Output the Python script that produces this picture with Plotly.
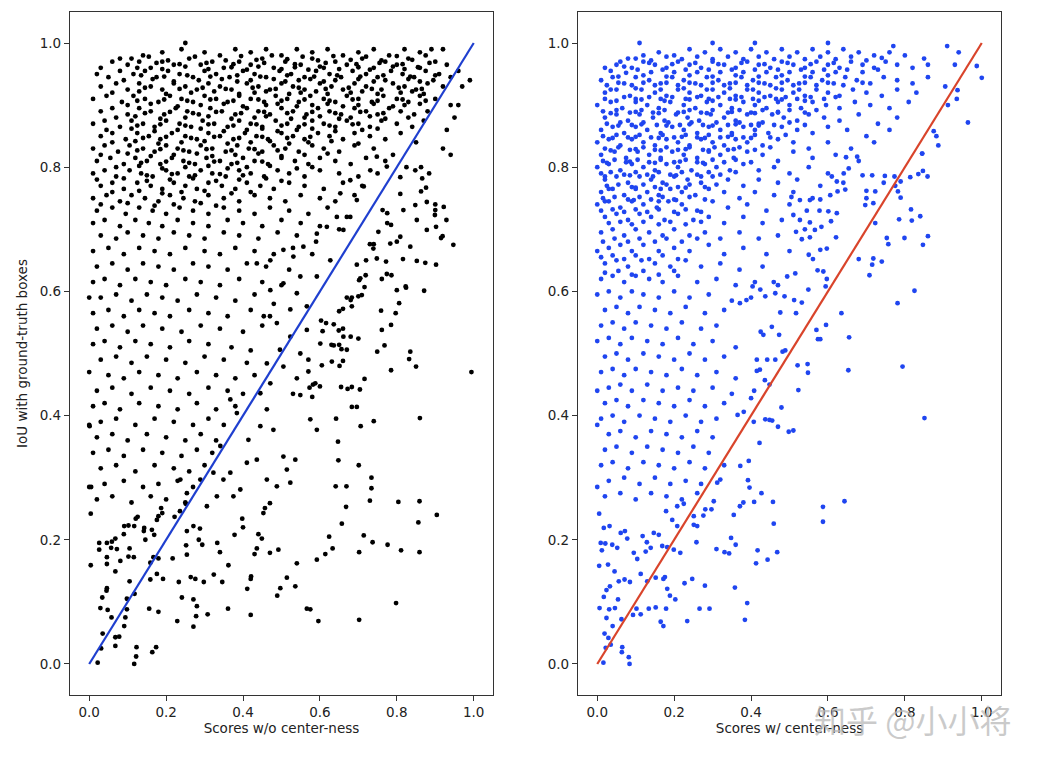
import plotly.graph_objects as go

# ---------------- data (score, IoU) ----------------
# left panel: scores without center-ness
wo_top = [
    (0.14,0.98),(0.19,0.985),(0.24,0.99),(0.25,1.0),(0.3,0.985),(0.34,0.98),(0.38,0.99),(0.42,0.985),(0.46,0.99),(0.5,0.98),
    (0.54,0.99),(0.58,0.985),(0.62,0.99),(0.66,0.98),(0.7,0.985),(0.74,0.99),(0.78,0.98),(0.82,0.99),(0.86,0.985),(0.89,0.99),
    (0.92,0.99),(0.08,0.975),(0.11,0.975),
    (0.03,0.96),(0.06,0.97),(0.1,0.965),(0.13,0.97),(0.16,0.96),(0.19,0.97),(0.22,0.965),(0.26,0.975),(0.29,0.965),(0.32,0.97),
    (0.35,0.96),(0.39,0.97),(0.42,0.965),(0.45,0.975),(0.48,0.96),(0.51,0.97),(0.55,0.965),(0.58,0.975),(0.61,0.96),(0.64,0.97),
    (0.67,0.965),(0.71,0.975),(0.74,0.96),(0.77,0.97),(0.8,0.965),(0.83,0.975),(0.86,0.96),(0.9,0.97),(0.93,0.965),(0.96,0.955),
    (0.02,0.95),(0.05,0.945),(0.08,0.955),(0.115,0.95),(0.145,0.955),(0.175,0.945),(0.205,0.955),(0.235,0.95),(0.27,0.945),
    (0.3,0.955),(0.33,0.95),(0.365,0.945),(0.4,0.955),(0.43,0.95),(0.46,0.945),(0.495,0.955),(0.525,0.95),(0.56,0.945),
    (0.59,0.955),(0.625,0.95),(0.655,0.945),(0.685,0.955),(0.72,0.95),(0.75,0.945),(0.785,0.955),(0.815,0.95),(0.845,0.945),
    (0.875,0.955),(0.91,0.95),(0.94,0.945),(0.99,0.94),
    (0.03,0.93),(0.07,0.935),(0.1,0.925),(0.13,0.935),(0.16,0.93),(0.19,0.925),(0.22,0.935),(0.25,0.93),(0.28,0.925),(0.31,0.935),
    (0.34,0.93),(0.37,0.925),(0.41,0.935),(0.44,0.93),(0.47,0.925),(0.5,0.935),(0.53,0.93),(0.56,0.925),(0.6,0.935),(0.63,0.93),
    (0.66,0.925),(0.69,0.935),(0.72,0.93),(0.76,0.925),(0.79,0.935),(0.82,0.93),(0.85,0.925),(0.88,0.935),(0.92,0.93),
    (0.01,0.91),(0.045,0.915),(0.085,0.905),(0.115,0.915),(0.145,0.91),(0.18,0.905),(0.21,0.915),(0.24,0.91),(0.27,0.905),
    (0.3,0.915),(0.33,0.91),(0.36,0.905),(0.39,0.915),(0.42,0.91),(0.455,0.905),(0.485,0.915),(0.515,0.91),(0.545,0.905),
    (0.575,0.915),(0.61,0.91),(0.64,0.905),(0.67,0.915),(0.7,0.91),(0.735,0.905),(0.765,0.915),(0.8,0.91),(0.83,0.905),
    (0.86,0.915),(0.9,0.91),(0.94,0.9),
    (0.03,0.89),(0.06,0.895),(0.1,0.885),(0.13,0.895),(0.16,0.89),(0.195,0.885),(0.225,0.895),(0.255,0.89),(0.285,0.885),
    (0.315,0.895),(0.345,0.89),(0.38,0.885),(0.41,0.895),(0.44,0.89),(0.47,0.885),(0.5,0.895),(0.53,0.89),(0.565,0.885),
    (0.595,0.895),(0.625,0.89),(0.655,0.885),(0.69,0.895),(0.72,0.89),(0.75,0.885),(0.78,0.895),(0.81,0.89),(0.845,0.885),(0.88,0.89),
    (0.01,0.87),(0.04,0.875),(0.08,0.865),(0.11,0.875),(0.14,0.87),(0.17,0.865),(0.2,0.875),(0.235,0.87),(0.265,0.865),(0.295,0.875),
    (0.325,0.87),(0.36,0.865),(0.39,0.875),(0.42,0.87),(0.45,0.865),(0.485,0.875),(0.515,0.87),(0.545,0.865),(0.58,0.875),
    (0.61,0.87),(0.64,0.865),(0.67,0.875),(0.7,0.87),(0.73,0.865),(0.76,0.875),(0.8,0.87),(0.84,0.865),(0.87,0.875),
    (0.03,0.85),(0.06,0.855),(0.095,0.845),(0.125,0.855),(0.155,0.85),(0.185,0.845),(0.215,0.855),(0.25,0.85),(0.28,0.845),
    (0.31,0.855),(0.34,0.85),(0.375,0.845),(0.405,0.855),(0.435,0.85),(0.465,0.845),(0.5,0.855),(0.53,0.85),(0.56,0.845),
    (0.595,0.855),(0.625,0.85),(0.66,0.845),(0.69,0.855),(0.73,0.85),(0.77,0.845),(0.81,0.855),(0.85,0.84),
]
wo_fill = [
    (0.155,0.978),(0.205,0.972),(0.275,0.978),(0.355,0.972),(0.395,0.979),(0.435,0.973),(0.475,0.98),(0.515,0.974),(0.555,0.978),
    (0.595,0.972),(0.635,0.979),(0.68,0.973),(0.72,0.978),(0.76,0.972),(0.8,0.979),(0.84,0.973),(0.875,0.98),
    (0.125,0.96),(0.19,0.958),(0.25,0.962),(0.31,0.958),(0.37,0.961),(0.41,0.957),(0.44,0.962),(0.5,0.958),(0.535,0.961),
    (0.57,0.957),(0.6,0.962),(0.65,0.958),(0.7,0.961),(0.73,0.957),(0.79,0.962),(0.82,0.958),(0.855,0.961),
    (0.09,0.94),(0.165,0.942),(0.22,0.938),(0.285,0.94),(0.345,0.942),(0.385,0.938),(0.42,0.94),(0.48,0.942),(0.51,0.938),
    (0.545,0.94),(0.575,0.942),(0.61,0.938),(0.64,0.94),(0.7,0.942),(0.74,0.938),(0.77,0.94),(0.83,0.942),(0.86,0.938),(0.895,0.94),
    (0.06,0.92),(0.13,0.922),(0.2,0.918),(0.265,0.92),(0.325,0.922),(0.39,0.918),(0.43,0.92),(0.46,0.922),(0.52,0.918),
    (0.55,0.92),(0.59,0.922),(0.62,0.918),(0.68,0.92),(0.71,0.922),(0.75,0.918),(0.81,0.92),(0.84,0.922),(0.87,0.918),
    (0.1,0.9),(0.16,0.902),(0.23,0.898),(0.29,0.9),(0.35,0.902),(0.4,0.898),(0.46,0.9),(0.49,0.902),(0.54,0.898),(0.58,0.9),
    (0.62,0.902),(0.66,0.898),(0.7,0.9),(0.74,0.902),(0.79,0.898),(0.82,0.9),(0.86,0.902),
    (0.07,0.88),(0.12,0.882),(0.185,0.878),(0.25,0.88),(0.31,0.882),(0.37,0.878),(0.43,0.88),(0.46,0.882),(0.525,0.878),
    (0.56,0.88),(0.6,0.882),(0.65,0.878),(0.68,0.88),(0.73,0.882),(0.77,0.878),(0.83,0.88),
    (0.045,0.86),(0.11,0.862),(0.17,0.858),(0.23,0.86),(0.29,0.862),(0.35,0.858),(0.41,0.86),(0.45,0.862),(0.49,0.858),
    (0.54,0.86),(0.58,0.862),(0.64,0.858),(0.71,0.86),(0.75,0.862),
    (0.06,0.84),(0.12,0.842),(0.18,0.838),(0.24,0.84),(0.3,0.842),(0.36,0.838),(0.42,0.84),(0.47,0.842),(0.52,0.838),
    (0.57,0.84),(0.63,0.842),(0.7,0.838),
    (0.03,0.82),(0.1,0.822),(0.16,0.818),(0.22,0.82),(0.28,0.822),(0.32,0.818),(0.38,0.82),(0.44,0.822),(0.5,0.818),(0.56,0.82),(0.62,0.822),
    (0.07,0.8),(0.13,0.802),(0.19,0.798),(0.25,0.8),(0.31,0.802),(0.36,0.798),(0.41,0.8),(0.47,0.802),(0.54,0.798),(0.58,0.8),
    (0.02,0.78),(0.09,0.782),(0.15,0.778),(0.21,0.78),(0.27,0.782),(0.33,0.778),(0.39,0.78),(0.46,0.782),(0.5,0.778),
    (0.06,0.76),(0.13,0.762),(0.19,0.758),(0.24,0.76),(0.3,0.762),(0.37,0.758),(0.42,0.76),
    (0.03,0.74),(0.1,0.742),(0.17,0.738),(0.22,0.74),(0.29,0.742),(0.33,0.738),
]
wo_core = [
    (0.175,0.968),(0.235,0.966),(0.305,0.968),(0.375,0.966),(0.455,0.968),(0.535,0.966),(0.615,0.968),(0.695,0.966),(0.755,0.968),
    (0.815,0.966),(0.885,0.968),
    (0.135,0.948),(0.195,0.946),(0.255,0.948),(0.315,0.946),(0.385,0.948),(0.445,0.946),(0.515,0.948),(0.585,0.946),(0.645,0.948),
    (0.705,0.946),(0.765,0.948),(0.835,0.946),(0.9,0.948),
    (0.145,0.928),(0.235,0.926),(0.295,0.928),(0.355,0.926),(0.425,0.928),(0.485,0.926),(0.545,0.928),(0.615,0.926),(0.675,0.928),
    (0.735,0.926),(0.805,0.928),(0.865,0.926),
    (0.125,0.907),(0.195,0.909),(0.255,0.907),(0.315,0.909),(0.375,0.907),(0.44,0.909),(0.5,0.907),(0.56,0.909),(0.625,0.907),
    (0.685,0.909),(0.75,0.907),(0.815,0.909),(0.875,0.907),
    (0.145,0.887),(0.21,0.889),(0.27,0.887),(0.33,0.889),(0.395,0.887),(0.455,0.889),(0.515,0.887),(0.58,0.889),(0.64,0.887),
    (0.705,0.889),(0.765,0.887),
    (0.125,0.867),(0.185,0.869),(0.25,0.867),(0.31,0.869),(0.375,0.867),(0.435,0.869),(0.5,0.867),(0.56,0.869),(0.625,0.867),(0.685,0.869),
    (0.14,0.847),(0.2,0.849),(0.265,0.847),(0.325,0.849),(0.39,0.847),(0.45,0.849),(0.515,0.847),(0.575,0.849),
    (0.125,0.827),(0.185,0.829),(0.245,0.827),(0.305,0.829),(0.37,0.827),(0.43,0.829),(0.49,0.827),
    (0.135,0.807),(0.2,0.809),(0.26,0.807),(0.325,0.809),(0.385,0.807),(0.45,0.809),
    (0.15,0.787),(0.215,0.789),(0.275,0.787),(0.34,0.789),(0.4,0.787),
]
wo_mid = [
    (0.01,0.83),(0.04,0.835),(0.075,0.825),(0.105,0.835),(0.14,0.83),(0.17,0.825),(0.2,0.835),(0.23,0.83),(0.26,0.825),(0.29,0.835),
    (0.32,0.83),(0.355,0.825),(0.385,0.835),(0.415,0.83),(0.45,0.825),(0.48,0.835),(0.51,0.83),(0.545,0.825),(0.58,0.835),
    (0.61,0.83),(0.65,0.825),(0.69,0.835),(0.74,0.83),(0.79,0.82),
    (0.02,0.81),(0.055,0.815),(0.09,0.805),(0.12,0.815),(0.15,0.81),(0.185,0.805),(0.215,0.815),(0.245,0.81),(0.275,0.805),
    (0.305,0.815),(0.34,0.81),(0.37,0.805),(0.4,0.815),(0.43,0.81),(0.465,0.805),(0.5,0.815),(0.535,0.81),(0.57,0.805),
    (0.6,0.815),(0.64,0.81),(0.68,0.805),(0.72,0.815),(0.77,0.81),
    (0.01,0.79),(0.04,0.795),(0.07,0.785),(0.105,0.795),(0.135,0.79),(0.165,0.785),(0.2,0.795),(0.23,0.79),(0.26,0.785),(0.29,0.795),
    (0.32,0.79),(0.355,0.785),(0.39,0.795),(0.42,0.79),(0.455,0.785),(0.49,0.795),(0.52,0.79),(0.56,0.785),(0.6,0.795),
    (0.65,0.79),(0.7,0.785),(0.75,0.79),
    (0.03,0.77),(0.06,0.775),(0.09,0.765),(0.125,0.775),(0.16,0.77),(0.19,0.765),(0.22,0.775),(0.25,0.77),(0.28,0.765),(0.31,0.775),
    (0.345,0.77),(0.38,0.765),(0.41,0.775),(0.445,0.77),(0.48,0.765),(0.52,0.775),(0.56,0.77),(0.61,0.765),(0.66,0.775),(0.71,0.77),
    (0.01,0.75),(0.045,0.755),(0.08,0.745),(0.11,0.755),(0.145,0.75),(0.18,0.745),(0.21,0.755),(0.245,0.75),(0.275,0.745),
    (0.31,0.755),(0.35,0.75),(0.39,0.745),(0.43,0.755),(0.47,0.75),(0.51,0.745),(0.55,0.755),(0.6,0.75),(0.64,0.745),(0.69,0.755),
    (0.02,0.73),(0.06,0.735),(0.095,0.725),(0.13,0.735),(0.165,0.73),(0.2,0.725),(0.235,0.735),(0.27,0.73),(0.31,0.725),
    (0.35,0.735),(0.39,0.73),(0.43,0.725),(0.47,0.735),(0.52,0.73),(0.57,0.725),(0.62,0.735),(0.67,0.72),
    (0.01,0.71),(0.04,0.715),(0.08,0.705),(0.12,0.715),(0.155,0.71),(0.19,0.705),(0.23,0.715),(0.27,0.71),(0.31,0.705),
    (0.36,0.715),(0.4,0.71),(0.45,0.705),(0.5,0.715),(0.55,0.71),(0.6,0.705),(0.65,0.7),
    (0.03,0.69),(0.07,0.685),(0.1,0.695),(0.14,0.69),(0.18,0.685),(0.22,0.695),(0.26,0.69),(0.3,0.685),(0.35,0.695),(0.39,0.69),
    (0.44,0.685),(0.49,0.695),(0.54,0.69),(0.59,0.68),
    (0.01,0.665),(0.05,0.67),(0.09,0.66),(0.13,0.67),(0.17,0.665),(0.21,0.66),(0.25,0.67),(0.3,0.665),(0.34,0.66),(0.38,0.67),
    (0.43,0.665),(0.48,0.66),(0.53,0.67),(0.58,0.66),
    (0.02,0.64),(0.06,0.645),(0.1,0.635),(0.14,0.645),(0.18,0.64),(0.22,0.635),(0.27,0.645),(0.31,0.64),(0.36,0.635),(0.41,0.645),
    (0.46,0.64),(0.52,0.635),
    (0.01,0.615),(0.04,0.62),(0.08,0.61),(0.12,0.62),(0.16,0.615),(0.2,0.61),(0.25,0.62),(0.29,0.615),(0.34,0.61),(0.39,0.62),
    (0.45,0.615),(0.5,0.61),
    (0.436,0.645),(0.471,0.65),(0.505,0.667),(0.531,0.656),(0.557,0.672),(0.592,0.693),(0.618,0.704),(0.644,0.72),(0.661,0.699),
    (0.679,0.72),(0.696,0.747),(0.714,0.769),(0.653,0.758),(0.679,0.779),(0.731,0.795),(0.748,0.817),(0.774,0.801),
    (0.592,0.624),(0.627,0.65),(0.549,0.624),(0.505,0.613),(0.471,0.602),
]
wo_low = [
    (0.03,0.59),(0.07,0.595),(0.11,0.585),(0.15,0.595),(0.19,0.59),(0.23,0.585),(0.28,0.595),(0.33,0.59),(0.38,0.585),(0.43,0.595),(0.48,0.58),
    (0.0,0.59),(0.01,0.565),(0.05,0.57),(0.09,0.56),(0.13,0.57),(0.17,0.565),(0.21,0.56),(0.26,0.57),(0.31,0.565),(0.36,0.56),
    (0.42,0.57),(0.47,0.56),
    (0.02,0.54),(0.06,0.545),(0.1,0.535),(0.14,0.545),(0.19,0.54),(0.24,0.535),(0.29,0.545),(0.34,0.54),(0.4,0.535),(0.45,0.545),
    (0.01,0.515),(0.04,0.52),(0.08,0.51),(0.12,0.52),(0.16,0.515),(0.21,0.51),(0.26,0.52),(0.31,0.515),(0.37,0.51),(0.42,0.505),
    (0.03,0.49),(0.07,0.495),(0.11,0.485),(0.15,0.495),(0.2,0.49),(0.25,0.485),(0.3,0.495),(0.35,0.49),(0.41,0.485),
    (0.0,0.47),(0.05,0.465),(0.09,0.46),(0.13,0.47),(0.18,0.465),(0.23,0.46),(0.28,0.47),(0.33,0.465),(0.38,0.46),(0.43,0.465),
    (0.02,0.44),(0.06,0.445),(0.11,0.435),(0.16,0.445),(0.21,0.44),(0.26,0.435),(0.31,0.445),(0.36,0.44),(0.4,0.435),
    (0.01,0.415),(0.04,0.42),(0.08,0.41),(0.13,0.42),(0.18,0.415),(0.23,0.41),(0.28,0.42),(0.33,0.41),(0.38,0.415),
    (0.0,0.385),(0.03,0.39),(0.07,0.395),(0.12,0.385),(0.17,0.395),(0.22,0.39),(0.27,0.385),(0.31,0.395),(0.35,0.385),
    (0.02,0.365),(0.06,0.37),(0.1,0.36),(0.15,0.37),(0.2,0.365),(0.25,0.36),(0.29,0.37),(0.33,0.36),
    (0.01,0.34),(0.05,0.345),(0.09,0.335),(0.14,0.345),(0.19,0.34),(0.24,0.335),(0.28,0.345),(0.32,0.34),
    (0.03,0.315),(0.07,0.32),(0.12,0.31),(0.17,0.32),(0.22,0.315),(0.26,0.31),(0.3,0.32),
    (0.0,0.285),(0.04,0.29),(0.09,0.295),(0.14,0.285),(0.18,0.29),(0.23,0.295),(0.27,0.285),
    (0.02,0.265),(0.06,0.27),(0.11,0.26),(0.16,0.27),(0.2,0.265),(0.25,0.26),
    (0.54,0.597),(0.566,0.576),(0.523,0.571),(0.488,0.549),(0.454,0.56),(0.566,0.538),(0.523,0.527),(0.601,0.516),
    (0.496,0.506),(0.549,0.5),(0.462,0.484),(0.505,0.479),(0.471,0.452),(0.445,0.436),
    (0.6,0.447),(0.575,0.394),(0.592,0.377),(0.536,0.329),(0.505,0.334),(0.479,0.377),(0.462,0.41),(0.445,0.383),(0.414,0.361),
    (0.436,0.329),(0.41,0.324),(0.462,0.297),(0.488,0.286),(0.514,0.313),(0.523,0.292),(0.457,0.251),(0.453,0.243),(0.47,0.259),
    (0.384,0.404),(0.367,0.426),(0.341,0.351),(0.323,0.308),(0.367,0.308),(0.393,0.281),(0.375,0.27),(0.349,0.297),(0.332,0.27),
    (0.306,0.254),(0.289,0.297),(0.254,0.275),(0.237,0.297),
]
wo_bottom = [
    (0.004,0.242),(0.005,0.285),(0.001,0.383),(0.004,0.159),(0.026,0.184),(0.026,0.195),(0.046,0.195),(0.059,0.197),(0.057,0.187),
    (0.072,0.185),(0.068,0.202),(0.091,0.222),(0.09,0.209),(0.102,0.223),(0.117,0.222),(0.121,0.234),(0.126,0.237),(0.143,0.219),
    (0.146,0.2),(0.142,0.214),(0.163,0.216),(0.169,0.208),(0.176,0.232),(0.18,0.238),(0.19,0.243),(0.187,0.251),(0.167,0.172),
    (0.18,0.17),(0.159,0.163),(0.192,0.137),(0.159,0.136),(0.176,0.145),(0.222,0.237),(0.236,0.246),(0.251,0.258),(0.271,0.222),
    (0.285,0.2),(0.288,0.218),(0.294,0.192),(0.254,0.214),(0.116,0.172),(0.105,0.186),(0.102,0.173),(0.081,0.166),(0.068,0.149),
    (0.046,0.161),(0.046,0.172),(0.022,0.002),(0.031,0.025),(0.035,0.049),(0.048,0.087),(0.029,0.09),(0.034,0.107),(0.046,0.122),
    (0.045,0.118),(0.058,0.075),(0.091,0.061),(0.094,0.075),(0.098,0.088),(0.098,0.105),(0.105,0.133),(0.118,0.113),(0.068,0.029),
    (0.078,0.044),(0.068,0.043),(0.123,0.027),(0.122,0.012),(0.117,0.0),(0.174,0.027),(0.164,0.019),(0.156,0.089),(0.18,0.084),
    (0.217,0.17),(0.252,0.191),(0.254,0.176),(0.233,0.132),(0.229,0.069),(0.241,0.107),(0.264,0.14),(0.271,0.104),(0.28,0.093),
    (0.271,0.06),(0.278,0.077),(0.276,0.137),(0.298,0.132),(0.308,0.08),(0.324,0.144),(0.333,0.195),(0.34,0.18),(0.346,0.132),
    (0.362,0.159),(0.361,0.089),(0.378,0.208),(0.398,0.234),(0.4,0.22),(0.42,0.137),(0.421,0.141),(0.411,0.121),(0.42,0.079),
    (0.44,0.209),(0.449,0.202),(0.436,0.186),(0.43,0.177),(0.47,0.179),(0.492,0.184),(0.489,0.11),(0.497,0.122),(0.514,0.139),
    (0.536,0.125),(0.54,0.162),(0.566,0.089),(0.575,0.088),(0.592,0.168),(0.614,0.177),(0.633,0.186),(0.624,0.205),(0.657,0.226),
    (0.668,0.253),(0.641,0.286),(0.669,0.286),(0.596,0.069),(0.702,0.071),(0.702,0.18),(0.714,0.207),(0.737,0.196),(0.776,0.192),
    (0.798,0.098),(0.811,0.183),(0.804,0.261),(0.859,0.18),(0.856,0.228),(0.859,0.262),(0.904,0.24),(0.73,0.263),(0.734,0.283),
    (0.734,0.3),(0.701,0.32),(0.647,0.358),(0.648,0.328),
]
wo_right = [
    (0.86,0.396),(0.706,0.383),(0.74,0.391),(0.642,0.395),(0.994,0.47),(0.947,0.675),(0.929,0.715),(0.922,0.736),(0.919,0.689),
    (0.915,0.686),(0.902,0.704),(0.902,0.643),(0.9,0.731),(0.899,0.723),(0.878,0.699),(0.874,0.646),(0.852,0.649),(0.871,0.601),
    (0.878,0.744),(0.863,0.761),(0.848,0.739),(0.852,0.715),(0.835,0.672),(0.817,0.731),(0.816,0.652),(0.824,0.606),(0.809,0.688),
    (0.806,0.581),(0.797,0.565),(0.785,0.546),(0.785,0.473),(0.835,0.503),(0.832,0.491),(0.85,0.479),(0.768,0.513),(0.749,0.503),
    (0.761,0.538),(0.759,0.569),(0.786,0.626),(0.774,0.628),(0.761,0.62),(0.772,0.648),(0.748,0.653),(0.785,0.707),(0.783,0.677),
    (0.8,0.68),(0.8,0.602),(0.809,0.757),(0.823,0.608),(0.719,0.626),(0.702,0.618),(0.709,0.594),(0.7,0.592),(0.683,0.576),
    (0.68,0.586),(0.716,0.459),(0.704,0.442),(0.683,0.446),(0.672,0.443),(0.655,0.446),(0.696,0.414),(0.683,0.414),(0.651,0.48),
    (0.631,0.487),(0.605,0.481),(0.66,0.488),(0.67,0.506),(0.656,0.507),(0.65,0.514),(0.661,0.527),(0.68,0.527),(0.7,0.524),
    (0.649,0.537),(0.636,0.513),(0.63,0.514),(0.66,0.54),(0.607,0.536),(0.57,0.49),(0.57,0.471),(0.588,0.452),(0.582,0.45),
    (0.573,0.445),(0.54,0.46),(0.549,0.433),(0.53,0.435),(0.58,0.43),(0.636,0.547),(0.616,0.549),(0.603,0.553),(0.65,0.568),
    (0.66,0.572),(0.683,0.59),(0.67,0.59),(0.716,0.607),(0.705,0.621),(0.696,0.643),(0.72,0.65),(0.739,0.669),(0.73,0.676),
    (0.74,0.676),(0.752,0.696),(0.763,0.731),(0.775,0.726),(0.775,0.71),(0.809,0.784),(0.825,0.8),(0.848,0.795),(0.863,0.8),
    (0.866,0.782),(0.884,0.79),(0.876,0.767),(0.9,0.74),(0.92,0.83),(0.93,0.86),(0.95,0.88),(0.96,0.9),(0.97,0.93),(0.94,0.82),
]

# right panel: scores with center-ness
w_top = [
    (0.08,0.975),(0.12,0.98),(0.16,0.985),(0.2,0.98),(0.24,0.99),(0.28,0.985),(0.32,0.99),(0.36,0.985),(0.4,0.99),(0.44,0.985),
    (0.48,0.99),(0.52,0.985),(0.56,0.99),(0.6,0.985),(0.64,0.99),(0.68,0.985),(0.72,0.98),(0.76,0.985),(0.8,0.98),(0.85,0.975),
    (0.11,1.0),(0.3,1.0),(0.41,1.0),(0.6,1.0),(0.77,0.995),(0.91,0.995),(0.94,0.985),
    (0.02,0.96),(0.05,0.965),(0.09,0.96),(0.12,0.97),(0.15,0.965),(0.18,0.96),(0.21,0.97),(0.24,0.965),(0.27,0.96),(0.3,0.97),
    (0.33,0.965),(0.36,0.96),(0.39,0.97),(0.42,0.965),(0.45,0.96),(0.48,0.97),(0.51,0.965),(0.54,0.96),(0.57,0.97),(0.6,0.965),
    (0.63,0.96),(0.66,0.97),(0.69,0.965),(0.72,0.96),(0.75,0.97),(0.78,0.965),(0.82,0.96),(0.86,0.965),(0.93,0.965),(0.987,0.963),
    (0.01,0.94),(0.04,0.945),(0.07,0.935),(0.1,0.945),(0.135,0.94),(0.165,0.935),(0.195,0.945),(0.225,0.94),(0.255,0.935),
    (0.285,0.945),(0.315,0.94),(0.345,0.935),(0.375,0.945),(0.405,0.94),(0.435,0.935),(0.465,0.945),(0.495,0.94),(0.525,0.935),
    (0.555,0.945),(0.585,0.94),(0.615,0.935),(0.645,0.945),(0.675,0.94),(0.71,0.935),(0.745,0.945),(0.78,0.94),(0.82,0.935),
    (0.86,0.945),(0.905,0.93),(1.0,0.944),
    (0.02,0.92),(0.05,0.925),(0.085,0.915),(0.115,0.925),(0.15,0.92),(0.18,0.915),(0.21,0.925),(0.24,0.92),(0.27,0.915),(0.3,0.925),
    (0.33,0.92),(0.36,0.915),(0.39,0.925),(0.42,0.92),(0.45,0.915),(0.48,0.925),(0.51,0.92),(0.54,0.915),(0.57,0.925),(0.6,0.92),
    (0.63,0.915),(0.665,0.925),(0.7,0.92),(0.74,0.915),(0.78,0.925),(0.83,0.92),(0.937,0.924),
    (0.0,0.9),(0.035,0.905),(0.065,0.895),(0.1,0.905),(0.13,0.9),(0.16,0.895),(0.19,0.905),(0.225,0.9),(0.255,0.895),(0.285,0.905),
    (0.32,0.9),(0.35,0.895),(0.38,0.905),(0.41,0.9),(0.44,0.895),(0.47,0.905),(0.5,0.9),(0.53,0.895),(0.56,0.905),(0.595,0.9),
    (0.63,0.895),(0.67,0.905),(0.71,0.9),(0.76,0.895),(0.81,0.905),(0.912,0.9),(0.935,0.91),
    (0.02,0.88),(0.05,0.885),(0.08,0.875),(0.11,0.885),(0.145,0.88),(0.175,0.875),(0.205,0.885),(0.235,0.88),(0.265,0.875),
    (0.295,0.885),(0.33,0.88),(0.36,0.875),(0.39,0.885),(0.42,0.87),(0.455,0.885),(0.485,0.88),(0.52,0.875),(0.55,0.885),
    (0.59,0.88),(0.63,0.875),(0.68,0.885),(0.73,0.87),(0.78,0.88),
    (0.01,0.86),(0.04,0.865),(0.07,0.855),(0.1,0.865),(0.13,0.86),(0.165,0.855),(0.195,0.865),(0.225,0.86),(0.26,0.855),(0.29,0.865),
    (0.32,0.86),(0.35,0.855),(0.38,0.865),(0.41,0.86),(0.445,0.855),(0.48,0.865),(0.52,0.86),(0.56,0.855),(0.6,0.865),(0.65,0.86),
    (0.7,0.85),(0.76,0.86),(0.875,0.858),(0.964,0.872),
    (0.0,0.84),(0.03,0.845),(0.06,0.835),(0.09,0.845),(0.12,0.84),(0.15,0.835),(0.18,0.845),(0.21,0.84),(0.24,0.835),(0.27,0.845),
    (0.3,0.84),(0.33,0.835),(0.36,0.845),(0.39,0.84),(0.43,0.835),(0.47,0.845),(0.51,0.84),(0.55,0.83),(0.6,0.84),(0.66,0.83),
    (0.72,0.84),(0.882,0.85),(0.887,0.835),
]
w_fill = [
    (0.06,0.97),(0.1,0.975),(0.14,0.972),(0.18,0.978),(0.22,0.974),(0.26,0.978),(0.3,0.974),(0.34,0.978),(0.38,0.974),(0.42,0.978),
    (0.46,0.974),(0.5,0.978),(0.54,0.974),(0.58,0.978),(0.62,0.974),(0.66,0.978),(0.7,0.972),(0.74,0.976),
    (0.035,0.955),(0.075,0.952),(0.105,0.957),(0.14,0.953),(0.17,0.957),(0.2,0.953),(0.23,0.957),(0.26,0.953),(0.29,0.957),
    (0.32,0.953),(0.35,0.957),(0.38,0.953),(0.41,0.957),(0.44,0.953),(0.47,0.957),(0.5,0.953),(0.53,0.957),(0.56,0.953),
    (0.59,0.957),(0.62,0.953),(0.65,0.957),(0.69,0.953),(0.73,0.957),
    (0.025,0.932),(0.055,0.936),(0.09,0.932),(0.12,0.936),(0.15,0.932),(0.18,0.936),(0.21,0.932),(0.24,0.936),(0.27,0.932),
    (0.3,0.936),(0.33,0.932),(0.36,0.936),(0.39,0.932),(0.42,0.936),(0.45,0.932),(0.48,0.936),(0.51,0.932),(0.54,0.936),
    (0.57,0.932),(0.6,0.936),(0.64,0.932),(0.69,0.936),
    (0.02,0.91),(0.07,0.913),(0.1,0.91),(0.135,0.913),(0.165,0.91),(0.195,0.913),(0.23,0.91),(0.26,0.913),(0.29,0.91),
    (0.315,0.913),(0.345,0.91),(0.375,0.913),(0.405,0.91),(0.435,0.913),(0.465,0.91),(0.49,0.913),(0.52,0.91),(0.555,0.913),
    (0.59,0.91),(0.62,0.913),
    (0.015,0.89),(0.05,0.892),(0.085,0.888),(0.115,0.892),(0.145,0.888),(0.175,0.892),(0.21,0.888),(0.24,0.892),(0.27,0.888),
    (0.3,0.892),(0.34,0.888),(0.37,0.892),(0.4,0.888),(0.43,0.892),(0.47,0.888),(0.5,0.892),(0.54,0.888),(0.57,0.892),
    (0.025,0.87),(0.06,0.872),(0.09,0.868),(0.12,0.872),(0.155,0.868),(0.185,0.872),(0.215,0.868),(0.245,0.872),(0.275,0.868),
    (0.31,0.872),(0.34,0.868),(0.37,0.872),(0.4,0.868),(0.43,0.872),(0.46,0.868),(0.5,0.872),(0.54,0.868),
    (0.015,0.85),(0.05,0.852),(0.08,0.848),(0.11,0.852),(0.14,0.848),(0.17,0.852),(0.2,0.848),(0.23,0.852),(0.26,0.848),
    (0.29,0.852),(0.32,0.848),(0.35,0.852),(0.38,0.848),(0.41,0.852),(0.45,0.848),(0.49,0.852),
    (0.02,0.83),(0.055,0.832),(0.085,0.828),(0.12,0.832),(0.15,0.828),(0.18,0.832),(0.21,0.828),(0.24,0.832),(0.275,0.828),
    (0.305,0.832),(0.34,0.828),(0.37,0.832),(0.41,0.828),(0.45,0.832),
    (0.015,0.81),(0.045,0.812),(0.075,0.808),(0.105,0.812),(0.135,0.808),(0.165,0.812),(0.2,0.808),(0.23,0.812),(0.26,0.808),
    (0.3,0.812),(0.33,0.808),(0.36,0.812),(0.4,0.808),
    (0.01,0.79),(0.035,0.792),(0.07,0.788),(0.1,0.792),(0.13,0.788),(0.16,0.792),(0.19,0.788),(0.22,0.792),(0.26,0.788),
    (0.29,0.792),(0.32,0.788),(0.36,0.792),
    (0.025,0.77),(0.055,0.772),(0.09,0.768),(0.12,0.772),(0.15,0.768),(0.18,0.772),(0.21,0.768),(0.24,0.772),(0.28,0.768),(0.31,0.772),
    (0.015,0.75),(0.045,0.752),(0.08,0.748),(0.11,0.752),(0.14,0.748),(0.17,0.752),(0.2,0.748),(0.24,0.752),(0.28,0.748),
    (0.01,0.73),(0.04,0.732),(0.07,0.728),(0.1,0.732),(0.13,0.728),(0.16,0.732),(0.2,0.728),(0.23,0.732),(0.27,0.728),
    (0.03,0.71),(0.06,0.712),(0.09,0.708),(0.12,0.712),(0.16,0.708),(0.19,0.712),(0.23,0.708),(0.27,0.712),
    (0.015,0.68),(0.045,0.685),(0.08,0.68),(0.11,0.685),(0.15,0.68),(0.18,0.685),(0.22,0.68),(0.26,0.685),
    (0.01,0.655),(0.04,0.658),(0.07,0.652),(0.1,0.658),(0.135,0.652),(0.17,0.658),(0.21,0.652),
    (0.02,0.63),(0.055,0.633),(0.09,0.627),(0.12,0.633),(0.16,0.627),(0.2,0.633),
]
w_core = [
    (0.07,0.962),(0.135,0.968),(0.195,0.966),(0.255,0.968),(0.315,0.966),(0.375,0.968),(0.435,0.966),(0.495,0.968),(0.555,0.966),(0.615,0.968),
    (0.055,0.946),(0.12,0.948),(0.18,0.946),(0.24,0.948),(0.3,0.946),(0.36,0.948),(0.42,0.946),(0.48,0.948),(0.54,0.946),(0.6,0.948),
    (0.035,0.925),(0.1,0.927),(0.165,0.925),(0.225,0.927),(0.285,0.925),(0.345,0.927),(0.405,0.925),(0.465,0.927),(0.525,0.925),
    (0.05,0.907),(0.115,0.909),(0.175,0.907),(0.24,0.909),(0.3,0.907),(0.36,0.909),(0.42,0.907),(0.48,0.909),(0.54,0.907),
    (0.035,0.887),(0.1,0.889),(0.16,0.887),(0.225,0.889),(0.285,0.887),(0.35,0.889),(0.41,0.887),(0.47,0.889),
    (0.055,0.867),(0.115,0.869),(0.18,0.867),(0.24,0.869),(0.3,0.867),(0.36,0.869),(0.42,0.867),
    (0.04,0.847),(0.1,0.849),(0.16,0.847),(0.22,0.849),(0.28,0.847),(0.34,0.849),(0.4,0.847),
    (0.035,0.827),(0.1,0.829),(0.165,0.827),(0.23,0.829),(0.29,0.827),(0.355,0.829),
    (0.025,0.807),(0.085,0.809),(0.15,0.807),(0.215,0.809),(0.275,0.807),
    (0.02,0.785),(0.085,0.787),(0.145,0.785),(0.205,0.787),(0.27,0.785),
    (0.03,0.765),(0.1,0.767),(0.165,0.765),(0.23,0.767),
    (0.02,0.745),(0.095,0.747),(0.16,0.745),(0.205,0.747),
]
w_mid = [
    (0.01,0.82),(0.045,0.825),(0.075,0.815),(0.105,0.825),(0.135,0.82),(0.165,0.815),(0.195,0.825),(0.225,0.82),(0.26,0.815),
    (0.29,0.825),(0.32,0.82),(0.355,0.815),(0.39,0.825),(0.43,0.82),(0.47,0.81),(0.51,0.825),(0.56,0.815),(0.62,0.82),(0.68,0.81),(0.845,0.822),
    (0.0,0.8),(0.03,0.805),(0.06,0.795),(0.09,0.805),(0.12,0.8),(0.15,0.795),(0.18,0.805),(0.21,0.8),(0.245,0.795),(0.28,0.805),
    (0.31,0.8),(0.345,0.795),(0.38,0.805),(0.42,0.795),(0.46,0.8),(0.5,0.79),(0.55,0.8),(0.6,0.79),
    (0.02,0.78),(0.05,0.785),(0.08,0.775),(0.11,0.785),(0.14,0.78),(0.17,0.775),(0.2,0.785),(0.235,0.78),(0.27,0.775),(0.3,0.785),
    (0.34,0.78),(0.38,0.77),(0.42,0.78),(0.47,0.775),(0.52,0.78),(0.58,0.77),(0.64,0.775),
    (0.01,0.76),(0.04,0.765),(0.07,0.755),(0.1,0.765),(0.13,0.76),(0.16,0.755),(0.19,0.765),(0.22,0.76),(0.255,0.755),(0.29,0.765),
    (0.33,0.76),(0.37,0.75),(0.41,0.76),(0.46,0.755),(0.51,0.76),(0.56,0.75),
    (0.0,0.74),(0.03,0.745),(0.06,0.735),(0.09,0.745),(0.12,0.74),(0.155,0.735),(0.185,0.745),(0.22,0.74),(0.26,0.73),(0.3,0.745),
    (0.34,0.735),(0.39,0.74),(0.44,0.73),(0.5,0.74),
    (0.02,0.72),(0.05,0.725),(0.08,0.715),(0.11,0.725),(0.14,0.72),(0.175,0.715),(0.21,0.725),(0.25,0.715),(0.29,0.72),(0.33,0.71),
    (0.38,0.72),(0.43,0.71),(0.48,0.715),(0.54,0.7),
    (0.01,0.695),(0.04,0.7),(0.07,0.69),(0.1,0.7),(0.135,0.695),(0.17,0.69),(0.2,0.7),(0.24,0.69),(0.28,0.695),(0.32,0.685),
    (0.37,0.695),(0.42,0.685),(0.47,0.69),
    (0.0,0.665),(0.03,0.67),(0.06,0.675),(0.09,0.665),(0.12,0.675),(0.16,0.665),(0.2,0.67),(0.24,0.665),(0.29,0.675),(0.33,0.66),
    (0.38,0.67),(0.44,0.66),(0.5,0.665),
    (0.02,0.645),(0.05,0.65),(0.08,0.64),(0.115,0.65),(0.15,0.645),(0.19,0.64),(0.23,0.65),(0.27,0.64),(0.32,0.645),(0.37,0.635),(0.43,0.64),
    (0.01,0.62),(0.04,0.625),(0.07,0.615),(0.1,0.625),(0.135,0.62),(0.17,0.615),(0.21,0.625),(0.26,0.615),(0.31,0.62),(0.36,0.61),
    (0.41,0.615),(0.47,0.61),
    (0.623,0.726),(0.621,0.687),(0.608,0.713),(0.601,0.729),(0.578,0.73),(0.597,0.669),(0.58,0.667),(0.561,0.652),(0.55,0.659),
    (0.573,0.634),(0.588,0.632),(0.597,0.62),(0.594,0.608),(0.549,0.603),(0.517,0.696),(0.532,0.684),(0.553,0.687),(0.566,0.699),
    (0.583,0.704),(0.553,0.711),(0.527,0.715),(0.51,0.723),(0.545,0.73),(0.505,0.752),(0.527,0.747),(0.553,0.747),(0.58,0.748),
    (0.606,0.755),(0.625,0.761),(0.645,0.764),(0.623,0.777),(0.61,0.785),(0.641,0.79),(0.654,0.798),(0.676,0.817),(0.647,0.816),
    (0.494,0.624),(0.515,0.629),(0.459,0.615),
]
w_low = [
    (0.0,0.595),(0.03,0.6),(0.06,0.59),(0.09,0.6),(0.12,0.595),(0.16,0.59),(0.2,0.6),(0.24,0.59),(0.29,0.595),(0.35,0.585),(0.4,0.59),
    (0.02,0.57),(0.05,0.575),(0.08,0.565),(0.11,0.575),(0.15,0.57),(0.19,0.565),(0.23,0.575),(0.28,0.565),(0.33,0.57),
    (0.01,0.545),(0.04,0.55),(0.07,0.54),(0.1,0.55),(0.14,0.545),(0.18,0.54),(0.22,0.55),(0.27,0.54),(0.31,0.545),
    (0.0,0.52),(0.03,0.525),(0.06,0.515),(0.09,0.525),(0.13,0.52),(0.17,0.515),(0.21,0.525),(0.25,0.515),(0.3,0.52),(0.36,0.51),
    (0.02,0.495),(0.05,0.5),(0.08,0.49),(0.12,0.5),(0.16,0.495),(0.2,0.49),(0.24,0.5),(0.28,0.49),(0.33,0.495),
    (0.01,0.47),(0.04,0.475),(0.07,0.465),(0.1,0.475),(0.14,0.47),(0.18,0.465),(0.22,0.475),(0.26,0.465),(0.31,0.47),(0.36,0.46),
    (0.0,0.44),(0.03,0.445),(0.06,0.45),(0.09,0.44),(0.13,0.45),(0.17,0.44),(0.21,0.445),(0.25,0.44),(0.3,0.445),(0.35,0.435),
    (0.02,0.42),(0.05,0.425),(0.08,0.415),(0.12,0.425),(0.16,0.42),(0.2,0.415),(0.24,0.425),(0.28,0.415),(0.33,0.42),
    (0.01,0.395),(0.04,0.4),(0.07,0.39),(0.11,0.4),(0.15,0.395),(0.19,0.39),(0.23,0.4),(0.27,0.39),(0.31,0.395),
    (0.0,0.385),(0.03,0.37),(0.06,0.375),(0.1,0.365),(0.14,0.375),(0.18,0.37),(0.22,0.365),(0.26,0.375),(0.3,0.365),
    (0.02,0.345),(0.05,0.35),(0.09,0.34),(0.13,0.35),(0.17,0.345),(0.21,0.34),(0.25,0.35),(0.29,0.34),
    (0.01,0.32),(0.04,0.325),(0.08,0.315),(0.12,0.325),(0.16,0.32),(0.2,0.315),(0.24,0.325),(0.28,0.315),(0.33,0.32),
    (0.0,0.285),(0.03,0.295),(0.07,0.3),(0.11,0.29),(0.15,0.3),(0.19,0.29),(0.23,0.295),(0.27,0.29),
    (0.02,0.27),(0.06,0.275),(0.1,0.265),(0.14,0.275),(0.18,0.27),(0.22,0.265),(0.26,0.275),
    (0.532,0.582),(0.517,0.565),(0.512,0.586),(0.487,0.592),(0.476,0.566),(0.473,0.53),(0.454,0.543),(0.432,0.53),(0.425,0.535),
    (0.489,0.505),(0.482,0.503),(0.463,0.49),(0.442,0.49),(0.415,0.49),(0.423,0.474),(0.415,0.472),(0.436,0.457),(0.448,0.45),
    (0.408,0.44),(0.4,0.428),(0.381,0.406),(0.365,0.401),(0.437,0.394),(0.463,0.597),(0.424,0.603),(0.437,0.592),(0.404,0.608),
    (0.388,0.586),(0.371,0.581),
]
w_bottom = [
    (0.31,0.185),(0.358,0.123),(0.39,0.098),(0.384,0.071),(0.292,0.089),(0.266,0.089),(0.28,0.126),(0.247,0.137),(0.227,0.13),
    (0.234,0.069),(0.203,0.104),(0.189,0.11),(0.179,0.089),(0.182,0.121),(0.172,0.061),(0.165,0.068),(0.176,0.14),(0.172,0.137),
    (0.152,0.091),(0.134,0.089),(0.113,0.08),(0.102,0.089),(0.093,0.079),(0.082,0.011),(0.084,0.0),(0.065,0.027),(0.064,0.019),
    (0.016,0.002),(0.022,0.026),(0.029,0.042),(0.035,0.031),(0.019,0.049),(0.04,0.061),(0.024,0.074),(0.006,0.09),(0.031,0.088),
    (0.046,0.09),(0.063,0.072),(0.054,0.104),(0.017,0.108),(0.024,0.119),(0.033,0.125),(0.056,0.133),(0.071,0.136),(0.085,0.132),
    (0.045,0.149),(0.005,0.158),(0.028,0.16),(0.052,0.187),(0.039,0.192),(0.012,0.183),(0.009,0.195),(0.021,0.194),(0.005,0.242),
    (0.017,0.219),(0.032,0.222),(0.061,0.211),(0.072,0.214),(0.078,0.202),(0.095,0.179),(0.104,0.169),(0.113,0.145),(0.13,0.133),
    (0.152,0.139),(0.139,0.187),(0.126,0.181),(0.129,0.196),(0.118,0.206),(0.147,0.211),(0.16,0.208),(0.169,0.19),(0.182,0.188),
    (0.199,0.184),(0.216,0.179),(0.208,0.222),(0.195,0.232),(0.179,0.246),(0.208,0.254),(0.225,0.258),(0.251,0.238),(0.26,0.222),
    (0.251,0.224),(0.258,0.196),(0.276,0.239),(0.281,0.249),(0.297,0.249),(0.303,0.262),(0.312,0.292),(0.32,0.297),
]
w_right = [
    (0.851,0.396),(0.794,0.479),(0.825,0.601),(0.781,0.581),(0.86,0.689),(0.847,0.675),(0.84,0.721),(0.818,0.714),(0.799,0.686),
    (0.785,0.716),(0.816,0.732),(0.859,0.785),(0.847,0.794),(0.835,0.789),(0.845,0.822),(0.814,0.784),(0.789,0.751),(0.782,0.761),
    (0.757,0.676),(0.753,0.686),(0.74,0.648),(0.718,0.653),(0.715,0.643),(0.708,0.626),(0.68,0.652),(0.723,0.71),(0.718,0.742),
    (0.697,0.739),(0.7,0.75),(0.723,0.761),(0.7,0.762),(0.775,0.77),(0.773,0.785),(0.789,0.777),(0.745,0.775),(0.748,0.786),
    (0.715,0.787),(0.69,0.787),(0.653,0.473),(0.655,0.526),(0.635,0.565),(0.595,0.546),(0.57,0.538),(0.574,0.523),(0.58,0.523),
    (0.547,0.483),(0.548,0.469),(0.521,0.481),(0.523,0.441),(0.479,0.413),(0.51,0.376),(0.498,0.374),(0.47,0.382),(0.455,0.392),
    (0.448,0.393),(0.422,0.356),(0.407,0.39),(0.394,0.327),(0.372,0.319),(0.392,0.296),(0.396,0.284),(0.427,0.275),(0.457,0.261),
    (0.408,0.261),(0.587,0.253),(0.643,0.262),(0.38,0.26),(0.587,0.229),(0.459,0.226),(0.468,0.18),(0.443,0.168),(0.417,0.183),
    (0.413,0.162),(0.371,0.254),(0.355,0.24),(0.348,0.203),(0.36,0.192),(0.343,0.178),(0.331,0.18),
]

xticks = [0.0, 0.2, 0.4, 0.6, 0.8, 1.0]
yticks = [0.0, 0.2, 0.4, 0.6, 0.8, 1.0]
diag = [0.0, 1.0]

wo_pts = wo_top + wo_fill + wo_core + wo_mid + wo_low + wo_bottom + wo_right
w_pts = w_top + w_fill + w_core + w_mid + w_low + w_bottom + w_right

fig = go.Figure()

# left: black points and a blue y = x line
fig.add_trace(go.Scatter(x=[p[0] for p in wo_pts], y=[p[1] for p in wo_pts], mode='markers',
                         marker=dict(size=4.8, color='black'), xaxis='x', yaxis='y', showlegend=False))
fig.add_trace(go.Scatter(x=diag, y=diag, mode='lines', line=dict(color='#1f3fcf', width=2.2),
                         xaxis='x', yaxis='y', showlegend=False))

# right: blue points and a red y = x line
fig.add_trace(go.Scatter(x=[p[0] for p in w_pts], y=[p[1] for p in w_pts], mode='markers',
                         marker=dict(size=4.8, color='#1f45f0'), xaxis='x2', yaxis='y2', showlegend=False))
fig.add_trace(go.Scatter(x=diag, y=diag, mode='lines', line=dict(color='#d9442b', width=2.2),
                         xaxis='x2', yaxis='y2', showlegend=False))

axis_style = dict(range=[-0.05, 1.05], showgrid=False, zeroline=False, showline=True, mirror=True,
                  linecolor='#333333', linewidth=1.2, ticks='outside', ticklen=5, tickcolor='#333333',
                  tickformat='.1f', tickfont=dict(size=13.5, color='#222222'), automargin=False)

# the page puts the figure 8px in from the top-left corner, domains allow for that
fig.update_layout(
    width=1040, height=763,
    margin=dict(l=0, r=0, t=0, b=0),
    paper_bgcolor='white', plot_bgcolor='white',
    font=dict(family='DejaVu Sans', color='#222222'),
    xaxis=dict(axis_style, domain=[0.0596, 0.4663], tickvals=xticks, anchor='y',
               title=dict(text='Scores w/o center-ness', font=dict(size=13.5), standoff=4)),
    yaxis=dict(axis_style, domain=[0.0996, 0.9948], tickvals=yticks, anchor='x',
               title=dict(text='IoU with ground-truth boxes', font=dict(size=13.5), standoff=8)),
    xaxis2=dict(axis_style, domain=[0.5481, 0.9548], tickvals=xticks, anchor='y2',
                title=dict(text='Scores w/ center-ness', font=dict(size=13.5), standoff=4)),
    yaxis2=dict(axis_style, domain=[0.0996, 0.9948], tickvals=yticks, anchor='x2'),
)

# watermark in the lower right corner
fig.add_annotation(text='知乎 @小小将', xref='paper', yref='paper', x=0.966, y=0.068,
                   xanchor='right', yanchor='middle', showarrow=False,
                   font=dict(family='Noto Sans CJK SC', size=32, color='rgba(185,185,185,0.75)'))

fig.write_html("out.html")
